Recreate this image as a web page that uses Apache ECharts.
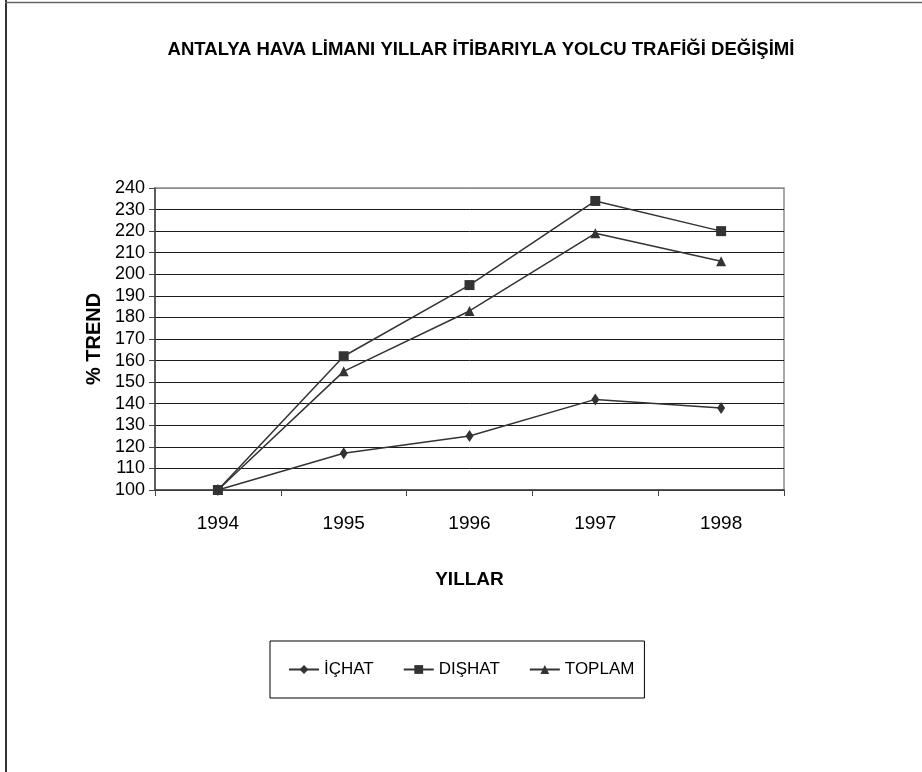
<!DOCTYPE html>
<html>
<head>
<meta charset="utf-8">
<script src="https://cdn.jsdelivr.net/npm/echarts@6/dist/echarts.min.js"></script>
<style>
  html, body { margin: 0; padding: 0; background: #fff; }
  #chart { width: 922px; height: 772px; }
</style>
</head>
<body>
<div id="chart"></div>
<script>
// Passenger traffic trend at Antalya airport, 1994 = 100
const years = ['1994', '1995', '1996', '1997', '1998'];
const icHat = [100, 117, 125, 142, 138];
const disHat = [100, 162, 195, 234, 220];
const toplam = [100, 155, 183, 219, 206];
const seriesNames = ['İÇHAT', 'DIŞHAT', 'TOPLAM'];

const FONT = '"Liberation Sans", Arial, sans-serif';

const chart = echarts.init(document.getElementById('chart'), null, { renderer: 'canvas' });

// 15 grid lines (100..240); the topmost one is the lighter plot border
const splitColors = [];
for (let i = 0; i < 14; i++) splitColors.push('#1a1a1a');
splitColors.push('#8a8a8a');

function lineSeries(name, data, symbol, size) {
  return {
    name: name,
    type: 'line',
    data: data,
    symbol: symbol,
    symbolSize: size,
    showSymbol: true,
    lineStyle: { color: '#333', width: 1.5 },
    itemStyle: { color: '#333' },
    emphasis: { disabled: true },
    animation: false
  };
}

chart.setOption({
  backgroundColor: '#fff',
  animation: false,
  graphic: [
    {
      type: 'text',
      x: 481,
      y: 41,
      scaleX: 1.03,
      style: {
        text: 'ANTALYA HAVA LİMANI YILLAR İTİBARIYLA YOLCU TRAFİĞİ DEĞİŞİMİ',
        font: 'bold 18px ' + FONT,
        fill: '#000',
        align: 'center'
      }
    },
    {
      type: 'line',
      shape: { x1: 6, y1: 0, x2: 6, y2: 772 },
      style: { stroke: '#333', lineWidth: 2 }
    },
    {
      type: 'line',
      shape: { x1: 5, y1: 2.5, x2: 922, y2: 2.5 },
      style: { stroke: '#666', lineWidth: 1.5 }
    }
  ],
  grid: {
    left: 155, right: 138, top: 188, bottom: 282,
    show: true, borderColor: '#8a8a8a', borderWidth: 1.5,
    backgroundColor: 'transparent'
  },
  legend: {
    data: seriesNames,
    left: 270,
    top: 641,
    padding: [20, 10, 20, 18],
    itemWidth: 30,
    itemHeight: 11,
    itemGap: 29,
    borderColor: '#000',
    borderWidth: 1,
    textStyle: { fontFamily: FONT, fontSize: 17, color: '#000' },
    selectedMode: false
  },
  xAxis: {
    type: 'category',
    data: years,
    boundaryGap: true,
    name: 'YILLAR',
    nameLocation: 'middle',
    nameGap: 80,
    nameTextStyle: { fontFamily: FONT, fontWeight: 'bold', fontSize: 19, color: '#000' },
    axisLine: { lineStyle: { color: '#444', width: 1.5 } },
    axisTick: { show: true, length: 6, lineStyle: { color: '#444' } },
    axisLabel: { fontFamily: FONT, fontSize: 19, color: '#000', margin: 24 },
    splitLine: { show: false }
  },
  yAxis: {
    type: 'value',
    min: 100,
    max: 240,
    interval: 10,
    name: '% TREND',
    nameLocation: 'middle',
    nameRotate: 90,
    nameGap: 37,
    nameTextStyle: { fontFamily: FONT, fontWeight: 'bold', fontSize: 20, color: '#000' },
    axisLine: { show: true, lineStyle: { color: '#444', width: 1.5 } },
    axisTick: { show: true, length: 6, lineStyle: { color: '#444' } },
    axisLabel: { fontFamily: FONT, fontSize: 18, color: '#000', margin: 10 },
    splitLine: { show: true, lineStyle: { color: splitColors, width: 1 } }
  },
  series: [
    lineSeries(seriesNames[0], icHat, 'diamond', [8, 12]),
    lineSeries(seriesNames[1], disHat, 'rect', 10),
    lineSeries(seriesNames[2], toplam, 'triangle', 10)
  ]
});
</script>
</body>
</html>
